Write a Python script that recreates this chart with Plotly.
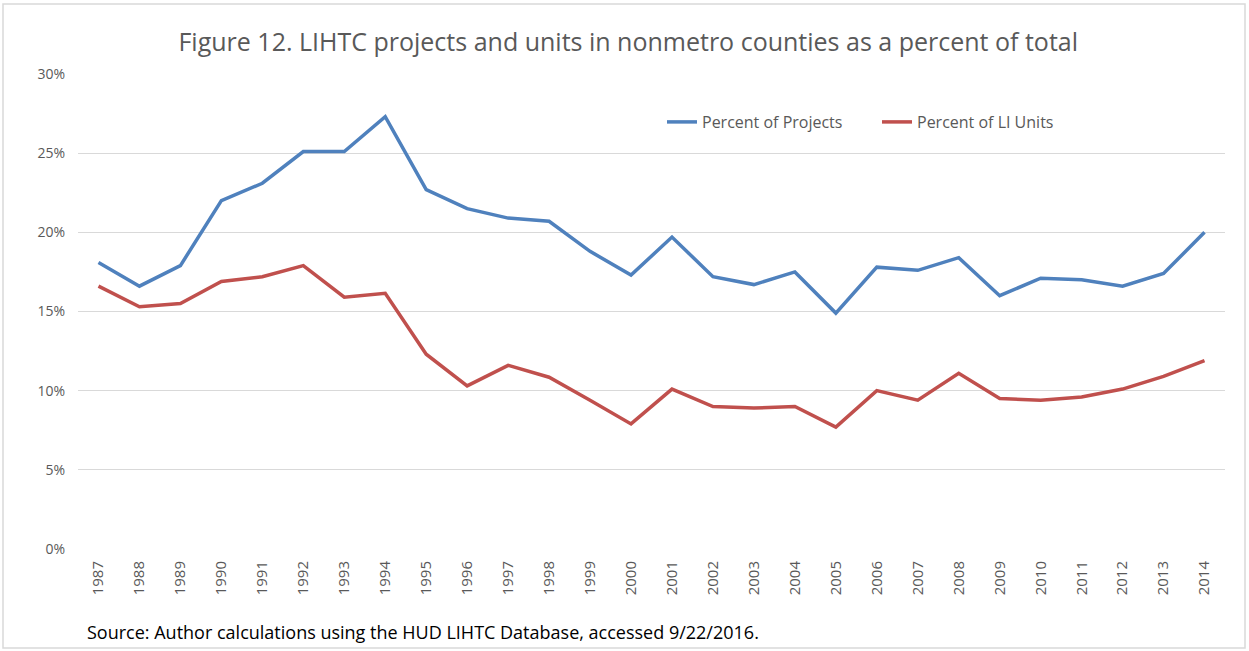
import plotly.graph_objects as go

years = [str(y) for y in range(1987, 2015)]
pct_projects = [18.1, 16.6, 17.9, 22.0, 23.1, 25.1, 25.1, 27.3, 22.7, 21.5, 20.9, 20.7, 18.8, 17.3,
                19.7, 17.2, 16.7, 17.5, 14.9, 17.8, 17.6, 18.4, 16.0, 17.1, 17.0, 16.6, 17.4, 20.0]
pct_units = [16.6, 15.3, 15.5, 16.9, 17.2, 17.9, 15.9, 16.15, 12.3, 10.3, 11.6, 10.85, 9.4, 7.9,
             10.1, 9.0, 8.9, 9.0, 7.7, 10.0, 9.4, 11.1, 9.5, 9.4, 9.6, 10.1, 10.9, 11.9]
yticks = [0, 5, 10, 15, 20, 25, 30]
ytick_labels = ["0%", "5%", "10%", "15%", "20%", "25%", "30%"]

W, H = 1249, 651
ml, mr, mt, mb = 78, 24, 74, 102
pw, ph = W - ml - mr, H - mt - mb

def px(x):
    return (x - ml) / pw

def py(y):
    return (H - mb - y) / ph

fig = go.Figure()
fig.add_trace(go.Scatter(x=years, y=pct_projects, mode="lines", name="Percent of Projects",
                         line=dict(color="#4F81BD", width=3.5)))
fig.add_trace(go.Scatter(x=years, y=pct_units, mode="lines", name="Percent of LI Units",
                         line=dict(color="#C0504D", width=3.5)))

font_family = "Open Sans, Noto Sans, sans-serif"
fig.update_layout(
    width=W, height=H,
    margin=dict(l=ml, r=mr, t=mt, b=mb),
    paper_bgcolor="white", plot_bgcolor="white",
    font=dict(family=font_family, color="#595959", size=13),
    title=dict(text="Figure 12. LIHTC projects and units in nonmetro counties as a percent of total",
               x=0.503, xanchor="center", y=1 - 42 / H, yanchor="middle",
               font=dict(size=25, color="#595959", family=font_family)),
    showlegend=True,
    legend=dict(orientation="h", x=px(662), xanchor="left", y=py(122), yanchor="middle",
                bgcolor="rgba(0,0,0,0)", font=dict(size=16, color="#595959"),
                itemwidth=30, tracegroupgap=0, entrywidth=170, entrywidthmode="pixels"),
    xaxis=dict(type="category", range=[-0.5, 27.5], tickangle=-90, showgrid=False, zeroline=False,
               showline=False, ticks="", ticklabelstandoff=8,
               tickfont=dict(size=15, color="#595959")),
    yaxis=dict(range=[0, 30], tickvals=yticks, ticktext=ytick_labels, showgrid=True,
               gridcolor="#D9D9D9", gridwidth=1, zeroline=False, showline=False,
               ticks="", ticklabelstandoff=12, tickfont=dict(size=14, color="#595959")),
    shapes=[dict(type="rect", xref="paper", yref="paper",
                 x0=px(3), x1=px(1245), y0=py(648), y1=py(4),
                 line=dict(color="#D9D9D9", width=1.5), fillcolor="rgba(0,0,0,0)")],
    annotations=[dict(text="Source: Author calculations using the HUD LIHTC Database, accessed 9/22/2016.",
                      xref="paper", yref="paper", x=px(85), y=py(632), xanchor="left", yanchor="middle",
                      showarrow=False, font=dict(size=18, color="black", family=font_family))],
)

fig.write_html("out.html", config={"displayModeBar": False},
               post_script="document.body.style.margin='0';document.body.style.overflow='hidden';")
